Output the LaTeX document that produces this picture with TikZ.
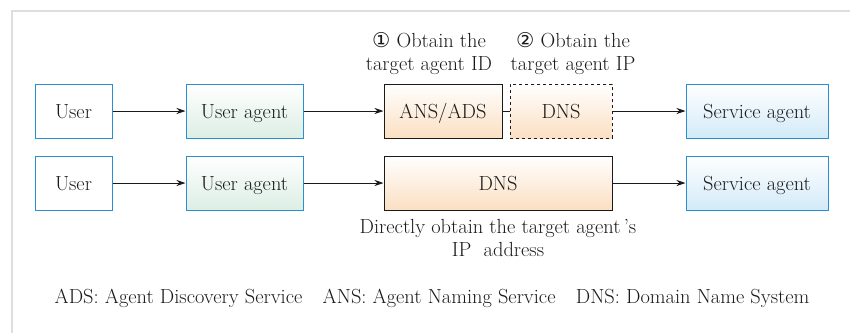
\documentclass[tikz,border=0pt]{standalone}
\usepackage{fontspec}
\newfontfamily\symfnt{DejaVu Sans}
\usetikzlibrary{arrows.meta}
\definecolor{bluebd}{HTML}{2A8FD0}
\definecolor{greenbt}{HTML}{DCEEE4}
\definecolor{orangebt}{HTML}{FBDFC2}
\definecolor{bluebt}{HTML}{D2EAF8}
\definecolor{framegray}{HTML}{DEDEDE}
\definecolor{ink}{HTML}{1A1A1A}
\tikzset{
  box/.style={draw, line width=1pt, inner sep=0pt, minimum height=54pt, text height=15pt, text depth=0pt, font=\fontsize{20.4}{23}\selectfont, text=ink},
  userbox/.style={box, draw=bluebd, fill=white},
  uabox/.style={box, draw=bluebd, top color=white, bottom color=greenbt},
  svcbox/.style={box, draw=bluebd, top color=white, bottom color=bluebt},
  srvbox/.style={box, draw=ink, top color=white, bottom color=orangebt},
  lbl/.style={align=center, inner sep=0pt, font=\fontsize{20.4}{23}\selectfont, text=ink},
  conn/.style={line width=1pt, draw=ink, -{Stealth[length=9pt,width=6pt]}}
}
\begin{document}
\begin{tikzpicture}[x=1pt,y=-1pt]
\useasboundingbox (0,0) rectangle (850,333);
\draw[framegray, line width=1.5pt] (12,333) -- (12,11) -- (850,11);
% row 1
\node[userbox, minimum width=77pt] (u1) at (73.5,111) {User};
\node[uabox, minimum width=117pt] (ua1) at (244.5,111) {User agent};
\node[srvbox, minimum width=118pt] (ans) at (443,111) {ANS/ADS};
\node[srvbox, dashed, minimum width=102pt] (dns1) at (561,111) {DNS};
\node[svcbox, minimum width=142pt] (sa1) at (757,111) {Service agent};
% row 2
\node[userbox, minimum width=77pt] (u2) at (73.5,183) {User};
\node[uabox, minimum width=117pt] (ua2) at (244.5,183) {User agent};
\node[srvbox, minimum width=228pt] (dns2) at (498,183) {DNS};
\node[svcbox, minimum width=142pt] (sa2) at (757,183) {Service agent};
% connectors
\draw[conn] (u1) -- (ua1);
\draw[conn] (ua1) -- (ans);
\draw[line width=1pt, ink] (ans) -- (dns1);
\draw[conn] (dns1) -- (sa1);
\draw[conn] (u2) -- (ua2);
\draw[conn] (ua2) -- (dns2);
\draw[conn] (dns2) -- (sa2);
% labels
\node[lbl] (l1) at (429,54) {{\symfnt ①} Obtain the\\target agent ID};
\node[lbl] (l2) at (573,54) {{\symfnt ②} Obtain the\\target agent IP};
\node[lbl] (l3) at (498,238) {Directly obtain the target agent\,’s\\IP\ \ address};
\node[lbl] (leg) at (432,298) {ADS: Agent Discovery Service\quad ANS: Agent Naming Service\quad DNS: Domain Name System};
\end{tikzpicture}
\end{document}
